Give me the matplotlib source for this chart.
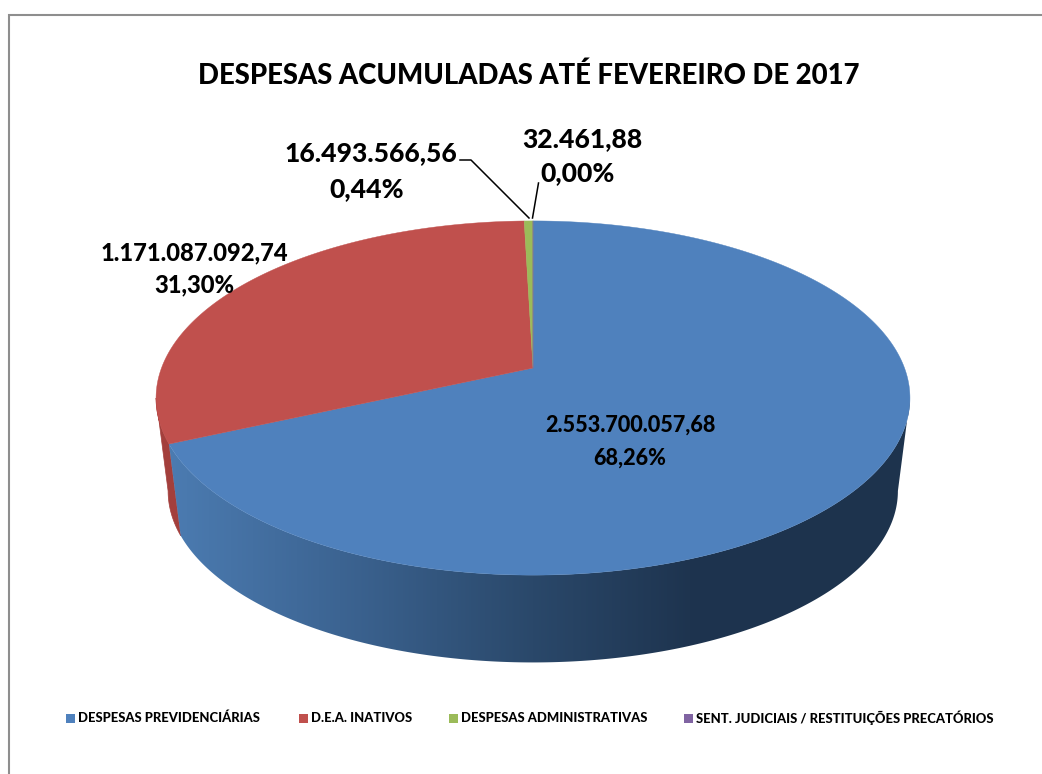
import numpy as np
import matplotlib
matplotlib.use("Agg")
import matplotlib.pyplot as plt
from matplotlib.patches import Polygon, Rectangle

plt.rcParams['font.family'] = ['Lato', 'DejaVu Sans']

title = 'DESPESAS ACUMULADAS ATÉ FEVEREIRO DE 2017'
categories = ['DESPESAS PREVIDENCIÁRIAS', 'D.E.A. INATIVOS', 'DESPESAS ADMINISTRATIVAS',
              'SENT. JUDICIAIS / RESTITUIÇÕES PRECATÓRIOS']
values = [2553700057.68, 1171087092.74, 16493566.56, 32461.88]
value_labels = ['2.553.700.057,68', '1.171.087.092,74', '16.493.566,56', '32.461,88']
pct_labels = ['68,26%', '31,30%', '0,44%', '0,00%']
colors = ['#4f81bd', '#c0504d', '#9bbb59', '#8064a2']
red_side = '#a33f3c'

# one axes in image pixels, y pointing down
fig = plt.figure(figsize=(10.42, 7.74), dpi=100)
ax = fig.add_axes([0, 0, 1, 1])

# chart frame, only top and left are inside the picture
ax.plot([9, 9, 1042], [774, 14.5, 14.5], color='#8e8e8e', lw=1.5, solid_joinstyle='miter')

# perspective of the pie disc
cx, apex_y = 533, 368
k, a_x, a_y = 0.1695, 371.5, 172.0
ell_y = 398
low_scale, low_y = 0.968, 491


def top_xy(t):
    # t is clockwise from 12 o'clock
    u, v = np.sin(t), np.cos(t)
    d = 1 + k * v
    return cx + a_x * u / d, apex_y - a_y * v / d


def low_xy(t):
    x, y = top_xy(t)
    return cx + (x - cx) * low_scale, low_y + (y - ell_y) * low_scale


def wall(t0, t1):
    ts = np.linspace(t0, t1, 600)
    tx, ty = top_xy(ts)
    lx, ly = low_xy(ts)
    return np.column_stack([np.r_[tx, lx[::-1]], np.r_[ty, ly[::-1]]])


fracs = np.array(values) / np.sum(values)
edges = np.concatenate([[0], np.cumsum(fracs)]) * 2 * np.pi
t_right = np.arccos(-k)
t_left = 2 * np.pi - t_right

# side wall: red sliver behind, shaded blue front
ax.add_patch(Polygon(wall(edges[1], t_left), closed=True, facecolor=red_side, edgecolor=red_side, lw=0.5))

grad_x = np.arange(160, 915)
shade_x = [165, 340, 533, 690, 910]
grad = np.dstack([np.interp(grad_x, shade_x, [76, 60, 42, 30, 29]),
                  np.interp(grad_x, shade_x, [124, 100, 72, 52, 51]),
                  np.interp(grad_x, shade_x, [178, 146, 106, 79, 77])]) / 255
blue_wall = Polygon(wall(t_right, edges[1]), closed=True, facecolor='none', edgecolor='none', transform=ax.transData)
ax.add_patch(blue_wall)
img = ax.imshow(grad, extent=[160, 915, 670, 380], aspect='auto', interpolation='bilinear', zorder=2)
img.set_clip_path(blue_wall)

ax.set_xlim(0, 1042)
ax.set_ylim(774, 0)
ax.axis('off')

# top face
for i in range(len(values)):
    n = max(int(fracs[i] * 1500), 3)
    ts = np.linspace(edges[i], edges[i + 1], n)
    x, y = top_xy(ts)
    pts = np.column_stack([np.r_[cx, x], np.r_[apex_y, y]])
    ax.add_patch(Polygon(pts, closed=True, facecolor=colors[i], edgecolor=colors[i], lw=0.3, zorder=3))

heavy = 900
ax.text(529, 76, title, ha='center', va='center', fontsize=19.8, fontweight=heavy, color='black')

# data labels
ax.text(630, 425, value_labels[0], ha='center', va='center', fontsize=15.6, fontweight=heavy, zorder=5)
ax.text(630, 458, pct_labels[0], ha='center', va='center', fontsize=15.6, fontweight=heavy, zorder=5)
ax.text(194, 253, value_labels[1], ha='center', va='center', fontsize=17.1, fontweight=heavy, zorder=5)
ax.text(194, 285, pct_labels[1], ha='center', va='center', fontsize=17.1, fontweight=heavy, zorder=5)
ax.text(370.5, 153, value_labels[2], ha='center', va='center', fontsize=19.1, fontweight=heavy, zorder=5)
ax.text(367, 189, pct_labels[2], ha='center', va='center', fontsize=19.1, fontweight=heavy, zorder=5)
ax.text(582, 139, value_labels[3], ha='center', va='center', fontsize=19.1, fontweight=heavy, zorder=5)
ax.text(578, 173, pct_labels[3], ha='center', va='center', fontsize=19.1, fontweight=heavy, zorder=5)

# leader lines
ax.plot([460, 471, 529], [160, 160, 218], color='black', lw=1.1, zorder=4)
ax.plot([538.5, 532.5], [183, 218], color='black', lw=1.1, zorder=4)

# legend
legend_x = [66, 299, 449, 684]
for i in range(len(categories)):
    ax.add_patch(Rectangle((legend_x[i], 714), 9, 9, facecolor=colors[i], edgecolor='none'))
    ax.text(legend_x[i] + 12, 718, categories[i], ha='left', va='center', fontsize=9.4, fontweight=heavy)

fig.savefig('out.png', dpi=100)
